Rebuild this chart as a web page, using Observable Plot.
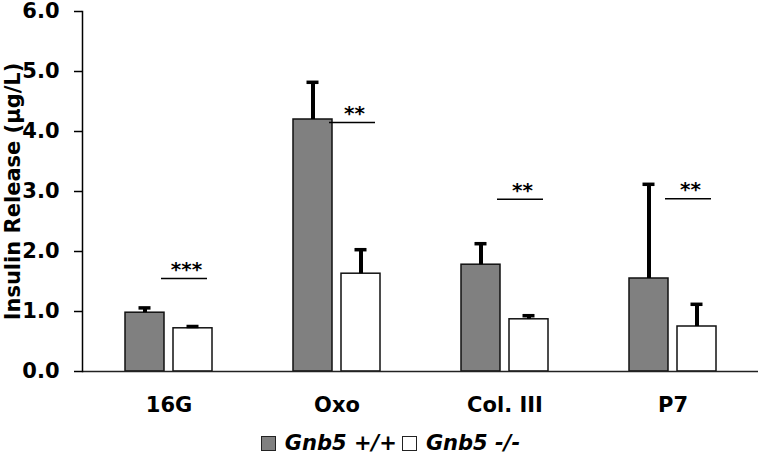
<!DOCTYPE html>
<html>
<head>
<meta charset="utf-8">
<script src="https://cdn.jsdelivr.net/npm/d3@7"></script>
<script src="https://cdn.jsdelivr.net/npm/@observablehq/plot@0.6"></script>
<style>
  html, body { margin: 0; padding: 0; background: #fff; }
  #chart { width: 760px; }
  .legend { height: 36px; display: flex; justify-content: center; align-items: center; margin-left: 26px;
    font-family: "DejaVu Sans", sans-serif; font-weight: bold; font-style: italic; font-size: 21px; color: #000; }
  .sw { display: inline-block; width: 13px; height: 13px; border: 1px solid #222; margin-right: 9px; }
  .item { display: inline-flex; align-items: center; margin-right: 5px; }
</style>
</head>
<body>
<div id="chart"></div>
<script>
const categories = ["16G", "Oxo", "Col. III", "P7"];
const seriesNames = ["Gnb5 +/+", "Gnb5 -/-"];
const wtValues = [0.98, 4.20, 1.78, 1.55];
const wtErrors = [0.08, 0.62, 0.35, 1.57];
const koValues = [0.72, 1.63, 0.87, 0.75];
const koErrors = [0.03, 0.40, 0.06, 0.37];
const sigLevels = [1.55, 4.15, 2.87, 2.88];
const sigLabels = ["***", "**", "**", "**"];
const yTicks = [0, 1, 2, 3, 4, 5, 6];

const wt = categories.map((c, i) => ({cat: c, v: wtValues[i], top: wtValues[i] + wtErrors[i]}));
const ko = categories.map((c, i) => ({cat: c, v: koValues[i], top: koValues[i] + koErrors[i]}));
const sig = categories.map((c, i) => ({cat: c, y: sigLevels[i], label: sigLabels[i]}));

const barW = 39, gap = 9, band = 2 * barW + gap;
const GRAY = "#808080";

const plot = Plot.plot({
  width: 760,
  height: 425,
  marginLeft: 82,
  marginRight: 2,
  marginTop: 11,
  marginBottom: 54,
  style: {fontFamily: "DejaVu Sans, sans-serif", fontWeight: "bold", fontSize: "21px", color: "#000", background: "#fff"},
  x: {domain: categories, paddingInner: 0.485, paddingOuter: 0.249, label: null},
  y: {domain: [0, 6], label: null},
  marks: [
    Plot.barY(wt, {x: "cat", y: "v", fill: GRAY, stroke: "#111", strokeWidth: 1.5, insetRight: band - barW}),
    Plot.barY(ko, {x: "cat", y: "v", fill: "#fff", stroke: "#111", strokeWidth: 1.5, insetLeft: band - barW}),
    Plot.ruleX(wt, {x: "cat", y1: "v", y2: "top", dx: -(band / 2 - barW / 2), stroke: "#000", strokeWidth: 4}),
    Plot.tickY(wt, {x: "cat", y: "top", insetLeft: barW / 2 - 6, insetRight: band - barW / 2 - 6, stroke: "#000", strokeWidth: 3.5}),
    Plot.ruleX(ko, {x: "cat", y1: "v", y2: "top", dx: (band / 2 - barW / 2), stroke: "#000", strokeWidth: 4}),
    Plot.tickY(ko, {x: "cat", y: "top", insetLeft: band - barW / 2 - 6, insetRight: barW / 2 - 6, stroke: "#000", strokeWidth: 3.5}),
    Plot.tickY(sig, {x: "cat", y: "y", insetLeft: 36, insetRight: band - 82, stroke: "#000", strokeWidth: 1.5}),
    Plot.text(sig, {x: "cat", y: "y", text: "label", dx: 59 - band / 2 + 2, dy: -9, fontSize: 20, fontWeight: "bold", fill: "#000", letterSpacing: "5px"}),
    Plot.ruleY([0], {stroke: "#222", strokeWidth: 1.5}),
    Plot.frame({anchor: "left", stroke: "#000", strokeWidth: 1.5}),
    Plot.axisY({ticks: yTicks, tickSize: 8, tickPadding: 15, tickFormat: d3.format(".1f"), label: null, strokeWidth: 1.5}),
    Plot.axisX({tickSize: 0, tickPadding: 26, label: null}),
    Plot.text(["Insulin Release (µg/L)"], {frameAnchor: "left", textAnchor: "middle", rotate: -90, dx: -69, fontSize: 21, fontWeight: "bold", fill: "#000"})
  ]
});
document.getElementById("chart").appendChild(plot);

const legend = document.createElement("div");
legend.className = "legend";
legend.innerHTML =
  `<span class="item"><span class="sw" style="background:${GRAY}"></span>${seriesNames[0]}</span>` +
  `<span class="item"><span class="sw" style="background:#fff"></span>${seriesNames[1]}</span>`;
document.getElementById("chart").appendChild(legend);
</script>
</body>
</html>
